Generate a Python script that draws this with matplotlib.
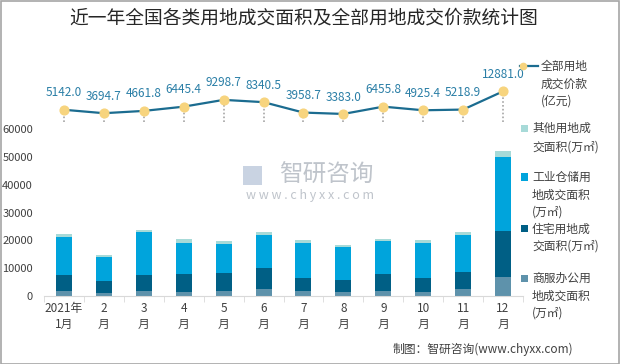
import matplotlib
matplotlib.use("Agg")
import matplotlib.pyplot as plt
from matplotlib.patches import Rectangle
from matplotlib.lines import Line2D
import numpy as np

plt.rcParams['font.family'] = ['Noto Sans CJK SC', 'DejaVu Sans']

months = ["2021年\n1月", "2\n月", "3\n月", "4\n月", "5\n月", "6\n月",
          "7\n月", "8\n月", "9\n月", "10\n月", "11\n月", "12\n月"]
commercial = [1690, 1080, 1800, 1440, 1690, 2410, 1690, 1320, 1920, 1560, 2650, 6740]
residential = [5890, 4210, 5780, 6500, 6610, 7580, 4930, 4460, 6140, 4940, 6130, 16610]
industrial = [13610, 8550, 15280, 11190, 10230, 11790, 12390, 11790, 11800, 12510, 13120, 26470]
other = [950, 720, 970, 1200, 1080, 1080, 1080, 840, 720, 1210, 1200, 2400]
price = [5142.0, 3694.7, 4661.8, 6445.4, 9298.7, 8340.5, 3958.7, 3383.0, 6455.8, 4925.4, 5218.9, 12881.0]

c_com = "#5E92AB"
c_res = "#005F85"
c_ind = "#00A4DC"
c_oth = "#A7DAD8"
c_line = "#1B6C90"
c_mark = "#F7D47E"
c_lab = "#2A7EA6"

W, H = 620, 364
fig = plt.figure(figsize=(W / 100, H / 100), dpi=100)
fig.patch.set_facecolor("white")
fig.patches.append(Rectangle((0.5 / W, 0.5 / H), 1 - 1.5 / W, 1 - 1.5 / H, transform=fig.transFigure,
                             fill=False, edgecolor="#A6A6A6", linewidth=1.2))

def px(x0, y0, x1, y1):
    return [x0 / W, 1 - y1 / H, (x1 - x0) / W, (y1 - y0) / H]

ax = fig.add_axes(px(44, 40, 523, 296))
x = np.arange(len(months))
bw = 0.4
b1 = np.array(commercial)
b2 = b1 + np.array(residential)
b3 = b2 + np.array(industrial)
ax.bar(x, commercial, bw, color=c_com)
ax.bar(x, residential, bw, bottom=b1, color=c_res)
ax.bar(x, industrial, bw, bottom=b2, color=c_ind)
ax.bar(x, other, bw, bottom=b3, color=c_oth)
ax.set_xlim(-0.5, len(months) - 0.5)
ax.set_ylim(0, 92000)
ax.set_yticks(np.arange(0, 60001, 10000))
ax.set_yticklabels([str(v) for v in range(0, 60001, 10000)], fontsize=8, color="#404040")
ax.tick_params(axis='y', length=0, pad=8)
ax.set_xticks(x)
ax.set_xticklabels(months, fontsize=8.5, color="#404040", linespacing=1.3)
ax.set_xticks(np.arange(-0.5, len(months), 1), minor=True)
ax.tick_params(axis='x', which='major', length=0, pad=4)
ax.tick_params(axis='x', which='minor', length=4, color="#D9D9D9")
for s in ["top", "right", "left"]:
    ax.spines[s].set_visible(False)
ax.spines["bottom"].set_color("#D9D9D9")
ax.patch.set_alpha(0)

ax2 = ax.twinx()
ax2.set_ylim(-73100, 34450)
ax2.axis('off')
ax2.vlines(x, 0, price, colors="#A6A6A6", linestyles=(0, (1, 1.3)), linewidth=1.2, zorder=1)
ax2.plot(x, price, color=c_line, linewidth=1.6, marker='o', markersize=6.3,
         markerfacecolor=c_mark, markeredgecolor=c_mark, zorder=3)
for xi, v in zip(x, price):
    ax2.annotate(f"{v:.1f}", (xi, v), xytext=(0, 7.5), textcoords="offset points",
                 ha="center", va="bottom", fontsize=8.5, color=c_lab)

# title
fig.text(304 / W, 1 - 18 / H, "近一年全国各类用地成交面积及全部用地成交价款统计图",
         ha="center", va="center", fontsize=13.5, color="#262626")

# watermark
fig.text(326 / W, 1 - 175 / H, "智研咨询", ha="center", va="center", fontsize=17,
         color="#BFC4CB", zorder=0)
fig.text(310 / W, 1 - 195 / H, "w w w . c h y x x . c o m", ha="center", va="center",
         fontsize=9, color="#BFC4CB", zorder=0)
fig.patches.append(Rectangle((243 / W, 1 - 185 / H), 19 / W, 19 / H, transform=fig.transFigure,
                             facecolor="#C9D3E2", edgecolor="none", zorder=0))

# legend
lfs = 8.5
fig.lines.append(Line2D([520 / W, 538 / W], [1 - 66 / H, 1 - 66 / H], transform=fig.transFigure,
                        color=c_line, linewidth=1.6))
fig.lines.append(Line2D([523 / W], [1 - 66 / H], transform=fig.transFigure, marker='o',
                        markersize=4.5, color=c_mark))
for t, yy in [("全部用地", 66), ("成交价款", 84), ("(亿元)", 101)]:
    fig.text(541 / W, 1 - yy / H, t, ha="left", va="center", fontsize=lfs, color="#404040")

groups = [
    (c_oth, [("其他用地成", 128), ("交面积(万㎡)", 147)]),
    (c_ind, [("工业仓储用", 177), ("地成交面积", 195), ("(万㎡)", 212)]),
    (c_res, [("住宅用地成", 229), ("交面积(万㎡)", 246)]),
    (c_com, [("商服办公用", 278), ("地成交面积", 296), ("(万㎡)", 313)]),
]
for col, lines in groups:
    y0 = lines[0][1]
    fig.patches.append(Rectangle((521 / W, 1 - (y0 + 3.5) / H), 7 / W, 7 / H,
                                 transform=fig.transFigure, facecolor=col, edgecolor="none"))
    for t, yy in lines:
        fig.text(532 / W, 1 - yy / H, t, ha="left", va="center", fontsize=lfs, color="#404040")

fig.text(573 / W, 1 - 349 / H, "制图：智研咨询(www.chyxx.com)", ha="right", va="center",
         fontsize=8.5, color="#404040")

fig.savefig("out.png", dpi=100)
